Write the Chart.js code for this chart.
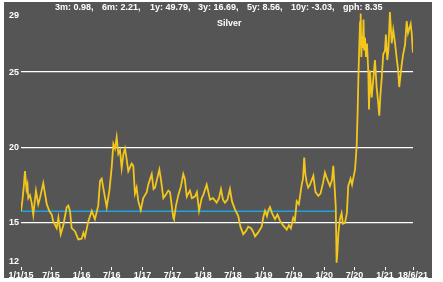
<!DOCTYPE html>
<html>
<head>
<meta charset="utf-8">
<script src="https://cdn.jsdelivr.net/npm/chart.js@4"></script>
<style>
  body { margin: 0; background: #fff; }
  #panel { position: absolute; left: 4px; top: 2px; width: 428px; height: 276px; background: #555555; }
  #chart { position: absolute; left: 0; top: 0; }
  .hdr { position: absolute; color: #fff; font: bold 9px "Liberation Sans", Arial, sans-serif; white-space: pre; line-height: 10px; }
</style>
</head>
<body>
<div id="panel"></div>
<canvas id="chart" width="443" height="282"></canvas>
<span class="hdr" style="left:55px;top:2px">3m: 0.98,</span>
<span class="hdr" style="left:102px;top:2px">6m: 2.21,</span>
<span class="hdr" style="left:150px;top:2px">1y: 49.79,</span>
<span class="hdr" style="left:198px;top:2px">3y: 16.69,</span>
<span class="hdr" style="left:247px;top:2px">5y: 8.56,</span>
<span class="hdr" style="left:291px;top:2px">10y: -3.03,</span>
<span class="hdr" style="left:343px;top:2px">gph: 8.35</span>
<span class="hdr" style="left:217px;top:18px">Silver</span>
<script>
// silver price
const dates = [
  "2015-01-01","2015-01-10","2015-01-18","2015-01-25","2015-02-03","2015-02-09","2015-02-14","2015-02-24",
  "2015-03-06","2015-03-16","2015-04-01","2015-04-15","2015-04-25","2015-05-15","2015-06-05","2015-06-20",
  "2015-07-05","2015-07-14","2015-08-04","2015-08-14","2015-08-28","2015-09-13","2015-10-03","2015-10-13",
  "2015-10-23","2015-11-02","2015-11-22","2015-12-12","2016-01-01","2016-01-12","2016-01-21","2016-02-10",
  "2016-03-02","2016-03-21","2016-04-10","2016-04-21","2016-05-01","2016-05-10","2016-05-31","2016-06-16",
  "2016-06-30","2016-07-10","2016-07-20","2016-07-30","2016-08-09","2016-08-19","2016-08-29","2016-09-08",
  "2016-09-18","2016-09-28","2016-10-08","2016-10-28","2016-11-07","2016-11-17","2016-11-27","2016-12-07",
  "2016-12-22","2017-01-06","2017-01-27","2017-02-05","2017-02-26","2017-03-09","2017-03-18","2017-04-13",
  "2017-04-23","2017-05-07","2017-05-20","2017-06-06","2017-06-16","2017-07-06","2017-07-10","2017-07-22",
  "2017-08-05","2017-08-21","2017-09-04","2017-09-13","2017-09-25","2017-10-04","2017-10-14","2017-10-26",
  "2017-11-13","2017-11-25","2017-12-08","2017-12-24","2018-01-02","2018-01-23","2018-02-02","2018-02-12",
  "2018-03-02","2018-03-24","2018-04-07","2018-04-19","2018-05-01","2018-05-13","2018-05-28","2018-06-12",
  "2018-06-24","2018-07-12","2018-08-01","2018-08-14","2018-08-31","2018-09-16","2018-09-30","2018-10-17",
  "2018-10-28","2018-11-10","2018-11-28","2018-12-20","2018-12-31","2019-01-09","2019-01-21","2019-01-30",
  "2019-02-08","2019-02-20","2019-03-10","2019-03-25","2019-04-09","2019-04-27","2019-05-20","2019-06-02",
  "2019-06-14","2019-06-28","2019-07-08","2019-07-19","2019-08-01","2019-08-18","2019-08-26","2019-09-02",
  "2019-09-09","2019-09-17","2019-09-26","2019-10-07","2019-10-27","2019-11-09","2019-11-26","2019-12-09",
  "2019-12-24","2020-01-05","2020-01-17","2020-02-04","2020-02-16","2020-02-24","2020-03-05","2020-03-10",
  "2020-03-15","2020-03-20","2020-03-26","2020-04-04","2020-04-14","2020-04-22","2020-05-04","2020-05-16",
  "2020-05-24","2020-06-07","2020-06-16","2020-06-23","2020-07-04","2020-07-14","2020-07-20","2020-07-24",
  "2020-07-29","2020-08-03","2020-08-07","2020-08-11","2020-08-15","2020-08-19","2020-08-24","2020-08-28",
  "2020-09-02","2020-09-08","2020-09-14","2020-09-22","2020-09-26","2020-10-02","2020-10-12","2020-10-22",
  "2020-11-01","2020-11-11","2020-11-21","2020-11-27","2020-12-04","2020-12-11","2020-12-21","2020-12-31",
  "2021-01-06","2021-01-14","2021-01-21","2021-01-30","2021-02-10","2021-02-19","2021-03-01","2021-03-12",
  "2021-03-20","2021-03-27","2021-04-04","2021-04-11","2021-04-20","2021-05-01","2021-05-11","2021-05-19",
  "2021-05-27","2021-06-04","2021-06-10","2021-06-16","2021-06-18"
];
const prices = [
  15.74,16.5,17.4,18.4,17.2,17.5,16.6,16.8,
  16.3,15.5,17.1,16.2,16.6,17.6,16.2,15.75,
  15.5,15.05,14.6,15.3,14.2,14.8,16.0,16.1,
  15.75,14.6,14.4,13.85,13.9,14.3,14.0,15.05,
  15.75,15.2,16.1,17.75,17.9,17.3,16.0,17.1,
  18.65,20.2,19.9,20.65,19.55,19.8,18.6,19.5,
  19.9,19.2,18.4,18.9,18.75,16.9,17.3,16.4,
  15.8,16.6,17.0,17.5,18.2,17.2,17.3,18.5,
  17.8,16.6,16.8,17.1,17.0,15.3,15.2,16.1,
  16.8,17.4,18.2,17.9,16.7,16.9,17.1,16.6,
  16.7,17.0,15.75,16.6,16.8,17.5,17.0,16.5,
  16.6,16.3,16.6,17.2,16.5,16.3,16.5,17.2,
  16.4,15.85,15.4,14.7,14.2,14.4,14.7,14.6,
  14.4,14.05,14.3,14.7,15.4,15.75,15.4,15.8,
  16.0,15.6,15.2,15.5,15.1,14.8,14.5,14.8,
  14.6,15.3,15.1,16.4,16.2,17.5,17.9,19.3,
  18.2,17.65,17.3,17.5,18.1,17.0,16.75,16.9,
  17.6,18.3,17.9,17.4,17.8,18.75,17.0,16.0,
  12.3,13.0,14.3,15.2,15.6,14.9,14.95,15.6,
  17.4,17.9,17.5,17.9,18.5,20.1,22.5,24.5,
  26.5,28.3,28.9,26.0,27.4,26.6,28.5,26.5,
  27.3,26.0,26.9,25.0,22.5,25.1,23.3,24.5,
  25.8,24.0,22.9,22.1,23.5,24.5,26.2,26.4,
  27.5,25.8,26.5,29.0,26.9,27.8,27.0,25.9,
  25.2,24.0,24.8,25.5,26.2,26.8,28.4,27.6,
  27.9,28.2,27.6,26.5,26.3
];

// starting level, held until the price first breaks below it
const baseDates = ["2015-01-01", "2020-03-12"];
const baseLevel = 15.72;

const tickDates = ["2015-01-01","2015-07-01","2016-01-01","2016-07-01","2017-01-01","2017-07-01","2018-01-01",
  "2018-07-01","2019-01-01","2019-07-01","2020-01-01","2020-07-01","2021-01-01","2021-06-18"];
const tickLabels = ["1/1/15","7/15","1/16","7/16","1/17","7/17","1/18","7/18","1/19","7/19","1/20","7/20","1/21","18/6/21"];
const yTicks = [12, 15, 20, 25, 29];

const ms = (d) => Date.parse(d + "T00:00:00Z");
const font = { family: "'Liberation Sans', Arial, sans-serif", size: 9, weight: "bold" };

// y labels: end values are nudged inward like the original
const yLabels = {
  id: "yLabels",
  afterDraw(chart) {
    const ctx = chart.ctx;
    const y = chart.scales.y;
    ctx.save();
    ctx.fillStyle = "#fff";
    ctx.font = "bold 9px 'Liberation Sans', Arial, sans-serif";
    ctx.textAlign = "right";
    ctx.textBaseline = "middle";
    yTicks.forEach((v) => {
      let py = y.getPixelForValue(v);
      if (v === yTicks[0]) py -= 6;
      if (v === yTicks[yTicks.length - 1]) py += 4;
      ctx.fillText(String(v), 19, py);
    });
    ctx.restore();
  },
};

new Chart(document.getElementById("chart"), {
  type: "line",
  data: {
    datasets: [
      {
        data: dates.map((d, i) => ({ x: ms(d), y: prices[i] })),
        borderColor: "#f2c61c",
        borderWidth: 1.8,
        pointRadius: 0,
        tension: 0,
      },
      {
        data: baseDates.map((d) => ({ x: ms(d), y: baseLevel })),
        borderColor: "#1fa3dc",
        borderWidth: 1.5,
        pointRadius: 0,
      },
    ],
  },
  options: {
    responsive: false,
    animation: false,
    devicePixelRatio: 1,
    layout: { padding: { left: 21, right: 30, top: 12, bottom: 1 } },
    plugins: { legend: { display: false }, tooltip: { enabled: false } },
    scales: {
      x: {
        type: "linear",
        min: ms(tickDates[0]),
        max: ms(tickDates[tickDates.length - 1]),
        afterBuildTicks: (scale) => {
          scale.ticks = tickDates.map((d) => ({ value: ms(d) }));
        },
        ticks: {
          autoSkip: false,
          maxRotation: 0,
          padding: 0,
          color: "#fff",
          font: font,
          callback: (v, i) => tickLabels[i],
        },
        grid: { drawOnChartArea: false, drawTicks: true, tickLength: 3, color: "#fff" },
        border: { display: false },
      },
      y: {
        min: yTicks[0],
        max: yTicks[yTicks.length - 1],
        afterBuildTicks: (scale) => {
          scale.ticks = yTicks.map((v) => ({ value: v }));
        },
        ticks: { display: false },
        grid: {
          drawTicks: false,
          lineWidth: 1.2,
          color: (c) => (c.tick && (c.tick.value === 12 || c.tick.value === 29) ? "rgba(0,0,0,0)" : "#fff"),
        },
        border: { display: false },
      },
    },
  },
  plugins: [yLabels],
});
</script>
</body>
</html>
